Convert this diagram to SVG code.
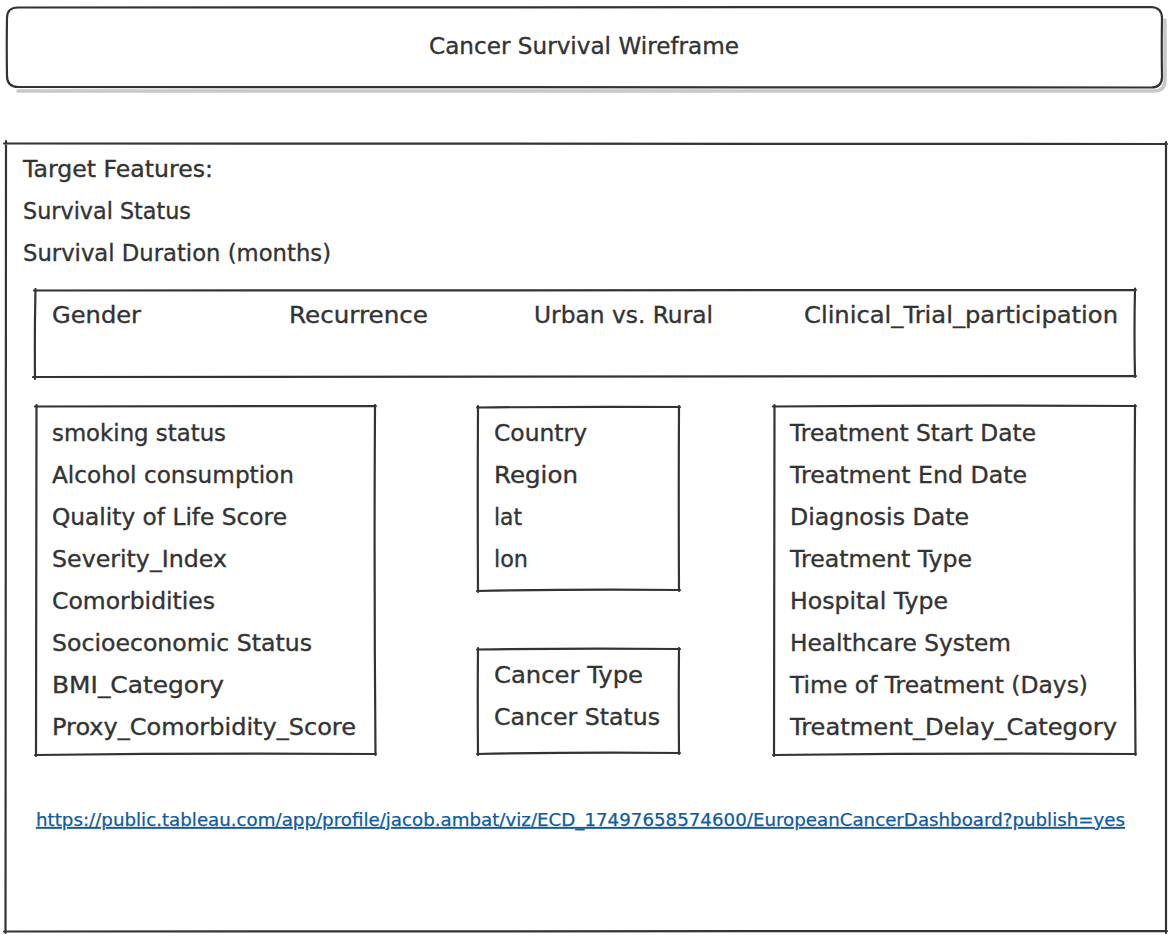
<svg xmlns="http://www.w3.org/2000/svg" width="1172" height="936" viewBox="0 0 1172 936">
<style>
.sk{fill:none;stroke:#333;stroke-width:2.2;stroke-linecap:round;stroke-linejoin:round}
.sh{fill:none;stroke:#c8c8c8;stroke-width:3.5;stroke-linecap:round}
.t{font-family:"DejaVu Sans","Liberation Sans",sans-serif;font-size:23px;fill:#333;stroke:#333;stroke-width:0.35}
.lk{font-family:"DejaVu Sans","Liberation Sans",sans-serif;font-size:17.5px;fill:#0f5aa0;stroke:#0f5aa0;stroke-width:0.25;text-decoration:underline}
</style>
<rect width="1172" height="936" fill="#ffffff"/>
<g id="title">
<path class="sh" d="M1165 20 L1165 80 Q1165 91 1154 91 L18 91"/>
<path class="sk" d="M18 7.5 Q590 5.5 1151 7 Q1162 7.5 1162 18 Q1161.5 48 1162 77 Q1162 87.5 1151 87.5 Q590 89 18 87 Q7 87 7 76 Q6.5 47 7 18 Q7 7.5 18 7.5 Z"/>
<text class="t" x="584" y="54" text-anchor="middle" textLength="310" lengthAdjust="spacingAndGlyphs">Cancer Survival Wireframe</text>
</g>
<g id="outer">
<path class="sk" d="M4 143.5 Q580 141.5 1167 144 M1166 142 Q1165 540 1166 933 M1167 931 Q585 929.5 4 931.5 M5.5 933 Q4.5 540 6 141"/>
<text class="t" x="23" y="176.5" textLength="190" lengthAdjust="spacingAndGlyphs">Target Features:</text>
<text class="t" x="23" y="218.5" textLength="168" lengthAdjust="spacingAndGlyphs">Survival Status</text>
<text class="t" x="23" y="260.5" textLength="308" lengthAdjust="spacingAndGlyphs">Survival Duration (months)</text>
<text class="lk" x="36" y="826" textLength="1089" lengthAdjust="spacingAndGlyphs">https://public.tableau.com/app/profile/jacob.ambat/viz/ECD_17497658574600/EuropeanCancerDashboard?publish=yes</text>
</g>
<g id="top-row">
<path class="sk" d="M34 290.5 Q600 288 1136 290 M1135 288.5 Q1134 333 1135 377 M1136 376 Q600 374.5 33 377 M35 379 Q34.5 333 35.5 289"/>
<text class="t" x="52" y="322.5" textLength="89" lengthAdjust="spacingAndGlyphs">Gender</text>
<text class="t" x="289" y="322.5" textLength="139" lengthAdjust="spacingAndGlyphs">Recurrence</text>
<text class="t" x="534" y="322.5" textLength="179" lengthAdjust="spacingAndGlyphs">Urban vs. Rural</text>
<text class="t" x="804" y="322.5" textLength="314" lengthAdjust="spacingAndGlyphs">Clinical_Trial_participation</text>
</g>
<g id="lifestyle">
<path class="sk" d="M35 406.5 Q205 405.5 376 406 M375 405 Q374 580 375.5 755 M376 754 Q205 753 35 755 M36 756 Q35.5 580 36.5 405"/>
<text class="t" x="52" y="440.5" textLength="174" lengthAdjust="spacingAndGlyphs">smoking status</text>
<text class="t" x="52" y="482.5" textLength="242" lengthAdjust="spacingAndGlyphs">Alcohol consumption</text>
<text class="t" x="52" y="524.5" textLength="235" lengthAdjust="spacingAndGlyphs">Quality of Life Score</text>
<text class="t" x="52" y="566.5" textLength="175" lengthAdjust="spacingAndGlyphs">Severity_Index</text>
<text class="t" x="52" y="608.5" textLength="163" lengthAdjust="spacingAndGlyphs">Comorbidities</text>
<text class="t" x="52" y="650.5" textLength="260" lengthAdjust="spacingAndGlyphs">Socioeconomic Status</text>
<text class="t" x="52" y="692.5" textLength="172" lengthAdjust="spacingAndGlyphs">BMI_Category</text>
<text class="t" x="52" y="734.5" textLength="304" lengthAdjust="spacingAndGlyphs">Proxy_Comorbidity_Score</text>
</g>
<g id="location">
<path class="sk" d="M477 407.5 Q578 406.5 680 407 M679 406 Q678.5 498 679 591 M680 590 Q578 589 477 591 M478 592 Q477.5 498 478 406"/>
<text class="t" x="494" y="440.5" textLength="93" lengthAdjust="spacingAndGlyphs">Country</text>
<text class="t" x="494" y="482.5" textLength="84" lengthAdjust="spacingAndGlyphs">Region</text>
<text class="t" x="494" y="524.5" textLength="28" lengthAdjust="spacingAndGlyphs">lat</text>
<text class="t" x="494" y="566.5" textLength="34" lengthAdjust="spacingAndGlyphs">lon</text>
</g>
<g id="cancer">
<path class="sk" d="M477 649.5 Q578 648 680 649 M679 648 Q678.5 700 679 754 M680 753 Q578 752 477 754 M478 755 Q477.5 700 478 648"/>
<text class="t" x="494" y="682.5" textLength="149" lengthAdjust="spacingAndGlyphs">Cancer Type</text>
<text class="t" x="494" y="724.5" textLength="166" lengthAdjust="spacingAndGlyphs">Cancer Status</text>
</g>
<g id="treatment">
<path class="sk" d="M773 406.5 Q955 405 1136 406 M1135 405 Q1134 580 1135.5 755 M1136 754 Q955 753 773 755 M774 756 Q773.5 580 774.5 405"/>
<text class="t" x="790" y="440.5" textLength="246" lengthAdjust="spacingAndGlyphs">Treatment Start Date</text>
<text class="t" x="790" y="482.5" textLength="237" lengthAdjust="spacingAndGlyphs">Treatment End Date</text>
<text class="t" x="790" y="524.5" textLength="179" lengthAdjust="spacingAndGlyphs">Diagnosis Date</text>
<text class="t" x="790" y="566.5" textLength="182" lengthAdjust="spacingAndGlyphs">Treatment Type</text>
<text class="t" x="790" y="608.5" textLength="158" lengthAdjust="spacingAndGlyphs">Hospital Type</text>
<text class="t" x="790" y="650.5" textLength="221" lengthAdjust="spacingAndGlyphs">Healthcare System</text>
<text class="t" x="790" y="692.5" textLength="298" lengthAdjust="spacingAndGlyphs">Time of Treatment (Days)</text>
<text class="t" x="790" y="734.5" textLength="327" lengthAdjust="spacingAndGlyphs">Treatment_Delay_Category</text>
</g>
<g id="connectors"></g>
</svg>
